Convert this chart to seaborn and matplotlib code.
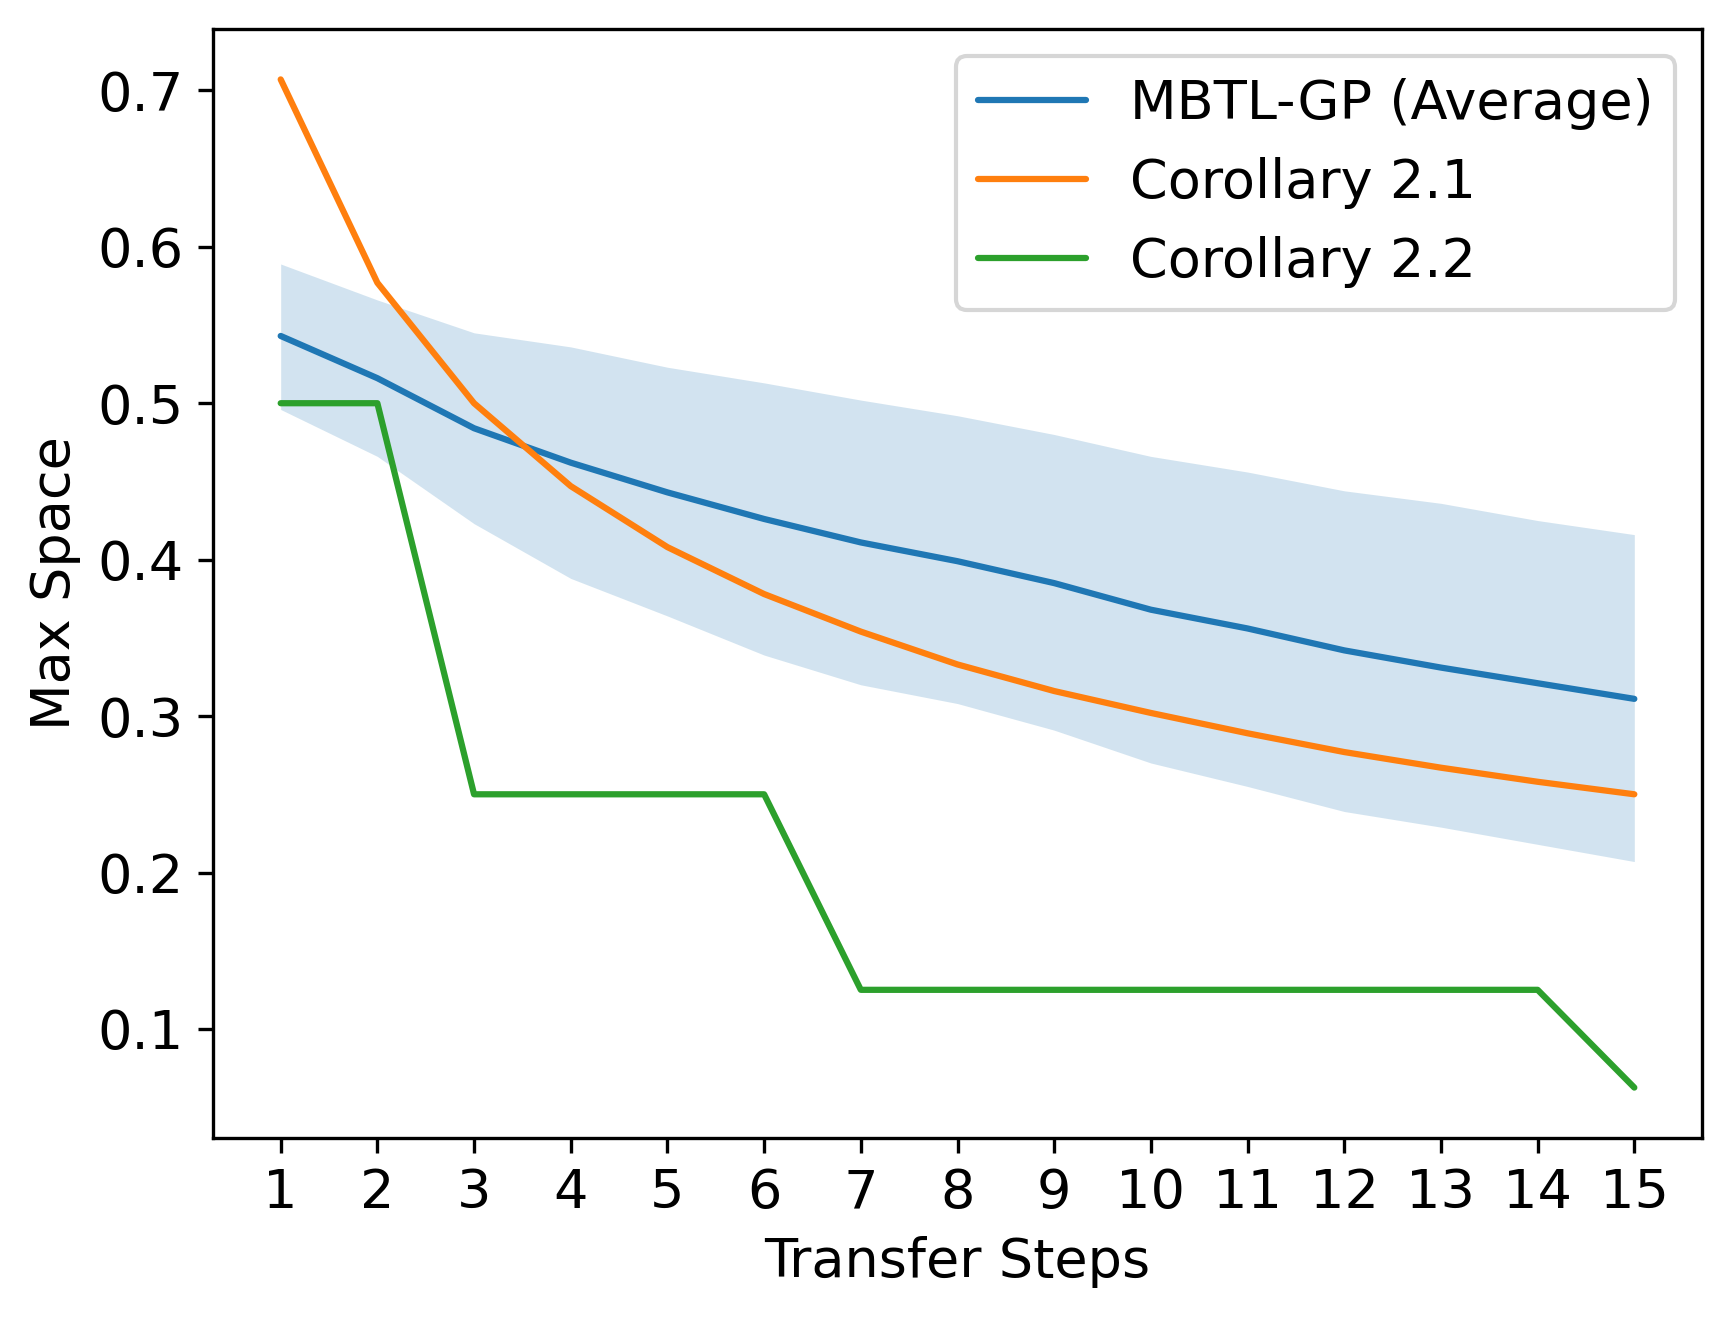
import matplotlib
matplotlib.use('Agg')
import numpy as np
import pandas as pd
import matplotlib.pyplot as plt
import seaborn as sns

steps = list(range(1, 16))
mbtl_mean = [0.543, 0.516, 0.484, 0.462, 0.443, 0.426, 0.411, 0.399, 0.385,
             0.368, 0.356, 0.342, 0.331, 0.321, 0.311]
mbtl_upper = [0.589, 0.566, 0.545, 0.536, 0.523, 0.513, 0.502, 0.492, 0.480,
              0.466, 0.456, 0.444, 0.436, 0.425, 0.416]
mbtl_lower = [0.496, 0.466, 0.423, 0.388, 0.364, 0.339, 0.320, 0.308, 0.291,
              0.270, 0.255, 0.239, 0.229, 0.218, 0.207]
corollary_21 = [0.707, 0.577, 0.500, 0.447, 0.408, 0.378, 0.354, 0.333, 0.316,
                0.302, 0.289, 0.277, 0.267, 0.258, 0.250]
corollary_22 = [0.5, 0.5, 0.25, 0.25, 0.25, 0.25, 0.125, 0.125, 0.125,
                0.125, 0.125, 0.125, 0.125, 0.125, 0.0625]

# plain matplotlib look: black text and spines
sns.set_style("ticks", {"axes.edgecolor": "black", "text.color": "black",
                        "axes.labelcolor": "black", "xtick.color": "black",
                        "ytick.color": "black"})
plt.rcParams['font.family'] = ['DejaVu Sans']
plt.rcParams['font.size'] = 13

df = pd.DataFrame({"step": steps * 3,
                   "value": mbtl_mean + corollary_21 + corollary_22,
                   "name": ["MBTL-GP (Average)"] * 15 + ["Corollary 2.1"] * 15 + ["Corollary 2.2"] * 15})

f = plt.figure(figsize=(1732 / 300, 1318 / 300), dpi=300)
ax = f.add_axes([213 / 1732, 1 - 1138 / 1318, (1702 - 213) / 1732, (1138 - 29) / 1318])
palette = ["#1f77b4", "#ff7f0e", "#2ca02c"]
sns.lineplot(data=df, x="step", y="value", hue="name", palette=palette, ax=ax, linewidth=1.5)
ax.fill_between(steps, mbtl_lower, mbtl_upper, color="#1f77b4", alpha=0.2, linewidth=0)
for s in ax.spines.values():
    s.set_linewidth(0.8)
    s.set_color("black")
ax.set_xticks(steps)
ax.tick_params(labelsize=13, colors="black")
ax.set_xlabel("Transfer Steps", fontsize=13, color="black")
ax.set_ylabel("Max Space", fontsize=13, color="black")
leg = ax.legend(title=None, loc="upper right", fontsize=13)
for t in leg.get_texts():
    t.set_color("black")
f.savefig("out.png", dpi=300)
